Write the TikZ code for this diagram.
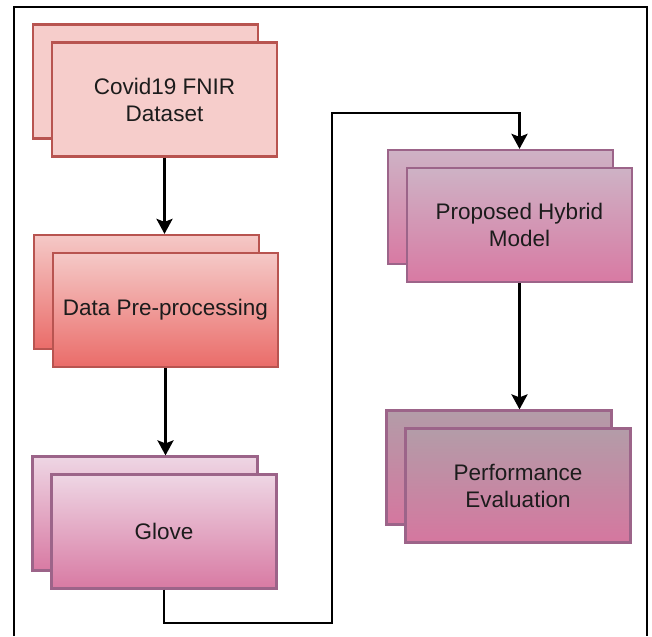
\documentclass[tikz,border=0pt]{standalone}
\usepackage{fontspec}
\setmainfont{Liberation Sans}
\usetikzlibrary{arrows.meta,calc}

\definecolor{redline}{HTML}{B85450}
\definecolor{redfill}{HTML}{F6CDCB}
\definecolor{redtop}{HTML}{F5C9C7}
\definecolor{redbot}{HTML}{EA6C69}
\definecolor{plumline}{HTML}{9C6489}
\definecolor{glovetop}{HTML}{EED6E4}
\definecolor{pinkbot}{HTML}{D87AA3}
\definecolor{hybtop}{HTML}{CEB2C5}
\definecolor{perftop}{HTML}{B39CA8}
\definecolor{perfbot}{HTML}{D5779F}
\definecolor{ink}{HTML}{1C1C1C}

\tikzset{
  card/.style={draw, line width=2.2pt, minimum width=225pt, minimum height=114pt,
    inner sep=0pt, align=center, text=ink,
    font=\fontsize{22.5pt}{27pt}\selectfont},
  covid/.style={card, draw=redline, fill=redfill},
  prep/.style={card, draw=redline, top color=redtop, bottom color=redbot},
  glove/.style={card, draw=plumline, top color=glovetop, bottom color=pinkbot},
  hybrid/.style={card, draw=plumline, top color=hybtop, bottom color=pinkbot},
  perf/.style={card, draw=plumline, top color=perftop, bottom color=perfbot},
  flow/.style={line width=2.8pt, draw=black,
    -{Stealth[length=15pt, width=16pt, inset=3pt]}},
  frame/.style={line width=1.8pt, draw=black}
}

\begin{document}
\begin{tikzpicture}[x=1pt, y=-1pt]
\useasboundingbox (0,0) rectangle (652,636);
\fill[white] (0,0) rectangle (652,636);

% outer frame, open at the bottom
\draw[frame] (14,636) -- (14,7) -- (647,7) -- (647,636);

% left column: stacked cards (back copy offset up-left)
\node[covid] (covB) at (145.5,81.5) {};
\node[covid] (covF) at (164.5,99.5) {Covid19 FNIR\\Dataset};

\node[prep] (prepB) at (146.5,292) {};
\node[prep] (prepF) at (165.5,310) {Data Pre-processing};

\node[glove] (gloveB) at (145,513.5) {};
\node[glove] (gloveF) at (164,531.5) {Glove};

% right column
\node[hybrid] (hybB) at (500.5,207) {};
\node[hybrid] (hybF) at (519.5,225) {Proposed Hybrid\\Model};

\node[perf] (perfB) at (499,467.5) {};
\node[perf] (perfF) at (518,485.5) {Performance\\Evaluation};

% route points of the long connector
\coordinate (low) at (332,623);
\coordinate (high) at (332,113);

% connectors
\draw[flow] (covF.south) -- (covF.south |- prepB.north);
\draw[flow] (prepF.south) -- (prepF.south |- gloveB.north);
\draw[flow] (gloveF.south) -- (gloveF.south |- low) -- (low) -- (high)
  -- (high -| hybF.south) -- (hybF.south |- hybB.north);
\draw[flow] (hybF.south) -- (hybF.south |- perfB.north);
\end{tikzpicture}
\end{document}
